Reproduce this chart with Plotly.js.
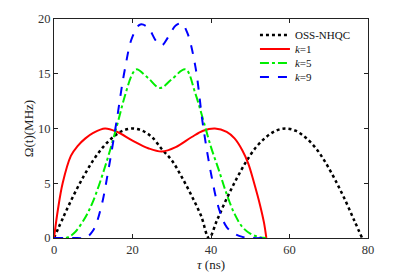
<!DOCTYPE html>
<html>
<head>
<meta charset="utf-8">
<script src="https://cdn.plot.ly/plotly-3.0.1.min.js"></script>
<style>html,body{margin:0;padding:0;background:#fff;}#chart{width:409px;height:273px;}</style>
</head>
<body>
<div id="chart"></div>
<script>
// OSS-NHQC
const tOss = [0, 2.5, 5, 7.5, 10, 12.5, 15, 17.5, 20, 22.5, 25, 27.5, 30, 32.5, 35, 37.5, 39.5, 41.5, 44, 46.5, 49, 51.5, 54, 56.5, 59, 61.5, 64, 66.5, 69, 71.5, 74, 76.5, 78.5];
const vOss = [0, 2.0, 3.9, 5.6, 7.1, 8.3, 9.2, 9.8, 10, 9.8, 9.2, 8.1, 7.1, 5.6, 3.9, 2.0, 0, 1.6, 3.6, 5.4, 7.0, 8.3, 9.2, 9.8, 10, 9.8, 9.2, 8.3, 7.0, 5.4, 3.6, 1.6, 0];
// k=1
const tK1 = [0, 1, 2.2, 4.3, 6, 8, 10, 13, 16, 20, 24, 27.5, 31, 35, 38, 41, 44, 46, 48, 49.5, 51, 52.5, 53.5, 54.1];
const vK1 = [0, 2.6, 5.0, 7.5, 8.4, 9.1, 9.6, 10, 9.7, 8.9, 8.2, 7.9, 8.3, 9.2, 9.8, 10, 9.7, 9.1, 8.0, 6.8, 5.0, 3.0, 1.4, 0];
// k=5
const tK5 = [0, 3, 5, 8, 10, 13, 16, 18, 20, 21, 24, 27, 30, 33.5, 36, 38, 40, 42, 44, 46, 48, 50, 52, 54];
const vK5 = [0, 0, 0.4, 1.9, 3.4, 6.5, 10.2, 12.9, 15.0, 15.4, 14.6, 13.7, 14.5, 15.4, 13.2, 10.8, 8.3, 6.2, 4.0, 2.2, 1.0, 0.4, 0.1, 0];
// k=9
const tK9 = [0, 6, 8, 10, 12, 14, 16, 18, 20, 22, 24, 26, 27.5, 29, 31, 32.5, 34, 36, 38, 40, 42, 44, 46, 48, 50, 54];
const vK9 = [0, 0, 0, 0.7, 2.8, 6.5, 10.8, 15.3, 18.4, 19.5, 19.2, 18.0, 17.6, 18.3, 19.4, 19.6, 18.7, 15.7, 10.2, 5.9, 2.7, 1.0, 0.4, 0.1, 0, 0];

const names = ['OSS-NHQC', '<i>k</i>=1', '<i>k</i>=5', '<i>k</i>=9'];
const xTicks = [0, 20, 40, 60, 80];
const yTicks = [0, 5, 10, 15, 20];

const serif = 'Liberation Serif, Times New Roman, serif';

const traces = [
  {x: tOss, y: vOss, name: names[0], legend: 'legend', mode: 'lines', line: {color: '#000000', dash: 'dot', width: 2.5, shape: 'spline'}},
  {x: tK1, y: vK1, name: names[1], legend: 'legend2', mode: 'lines', line: {color: '#ff0000', width: 2, shape: 'spline'}},
  {x: tK5, y: vK5, name: names[2], legend: 'legend3', mode: 'lines', line: {color: '#00ee00', dash: 'dashdot', width: 2, shape: 'spline'}},
  {x: tK9, y: vK9, name: names[3], legend: 'legend4', mode: 'lines', line: {color: '#0000ff', dash: 'dash', width: 2, shape: 'spline'}}
];

const axisCommon = {
  showgrid: false, zeroline: false, showline: true, mirror: 'ticks', linecolor: '#222', linewidth: 1,
  ticks: 'inside', ticklen: 4, tickcolor: '#222', tickfont: {family: serif, size: 12.5, color: '#333'}
};

function leg(y) {
  return {x: 0.64, y: y, xanchor: 'left', yanchor: 'middle', bgcolor: 'rgba(0,0,0,0)',
          font: {family: serif, size: 11, color: '#111'}, itemwidth: 30};
}

const layout = {
  width: 409, height: 273,
  margin: {l: 54, r: 41, t: 19, b: 35},
  paper_bgcolor: '#fff', plot_bgcolor: '#fff',
  font: {family: serif, color: '#222'},
  showlegend: true,
  legend: leg(0.927),
  legend2: leg(0.863),
  legend3: leg(0.799),
  legend4: leg(0.735),
  xaxis: Object.assign({}, axisCommon, {range: [0, 80], tickvals: xTicks,
    title: {text: '<i>τ</i> (ns)', font: {family: serif, size: 13, color: '#222'}, standoff: 3}}),
  yaxis: Object.assign({}, axisCommon, {range: [0, 20], tickvals: yTicks, automargin: true,
    title: {text: 'Ω(t)(MHz)', font: {family: serif, size: 13, color: '#222'}, standoff: 1}})
};

Plotly.newPlot('chart', traces, layout, {staticPlot: true, displayModeBar: false});
</script>
</body>
</html>
